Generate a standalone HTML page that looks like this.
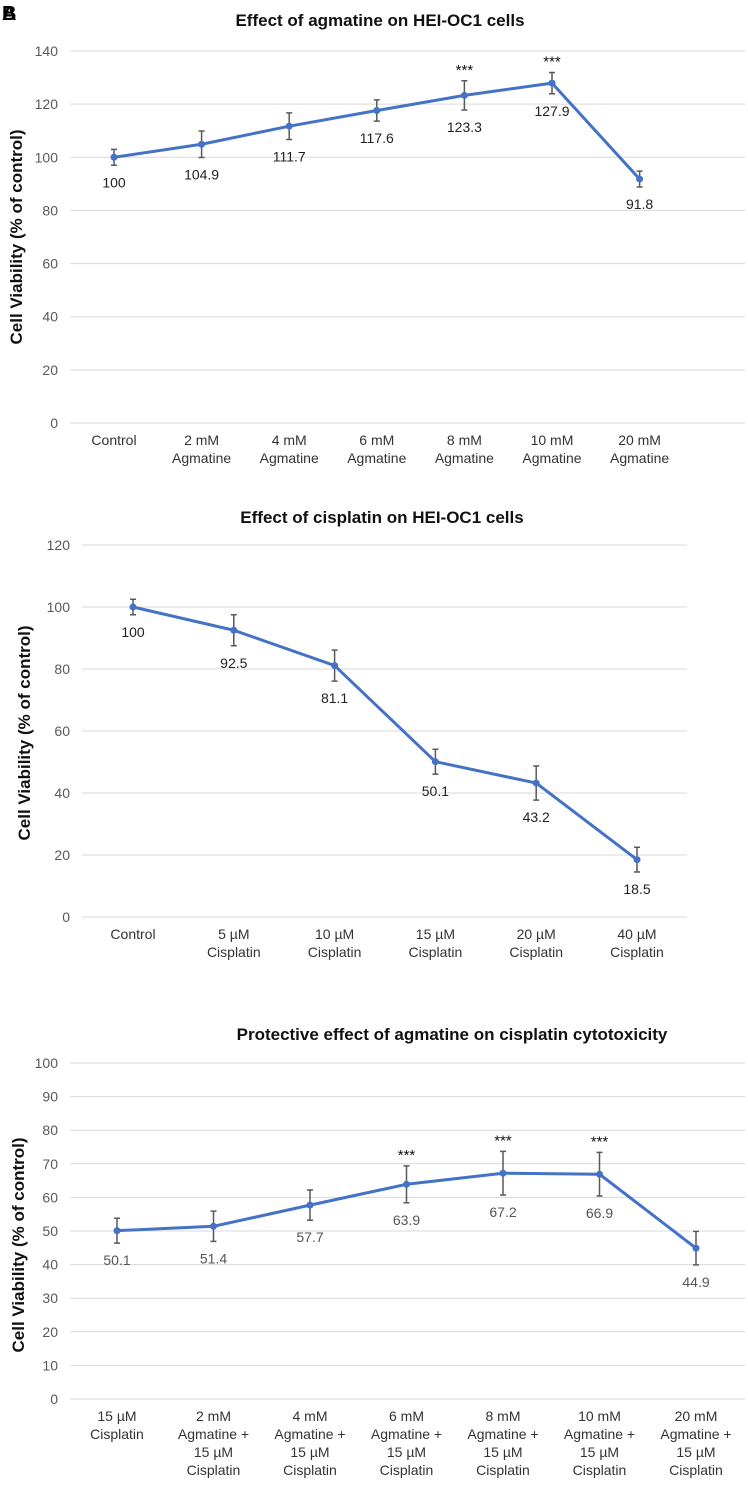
<!DOCTYPE html>
<html><head><meta charset="utf-8"><style>
body{margin:0;background:#fff;}
svg{display:block;font-family:"Liberation Sans",Arial,sans-serif;}
</style></head><body>
<svg id="s" width="748" height="1486">
<text x="2" y="20" font-size="20" font-weight="bold">A</text>
<text x="2" y="20" font-size="20" font-weight="bold">B</text>
</svg>
<script>
const c1Cats=[["Control"],["2 mM","Agmatine"],["4 mM","Agmatine"],["6 mM","Agmatine"],["8 mM","Agmatine"],["10 mM","Agmatine"],["20 mM","Agmatine"]];
const c1Vals=[100,104.9,111.7,117.6,123.3,127.9,91.8];
const c1Err=[3,5,5,4,5.5,4,3];
const c1Sig=["","","","","***","***",""];
const c1Ticks=[0,20,40,60,80,100,120,140];
const c2Cats=[["Control"],["5 µM","Cisplatin"],["10 µM","Cisplatin"],["15 µM","Cisplatin"],["20 µM","Cisplatin"],["40 µM","Cisplatin"]];
const c2Vals=[100,92.5,81.1,50.1,43.2,18.5];
const c2Err=[2.5,5,5,4,5.5,4];
const c2Sig=["","","","","",""];
const c2Ticks=[0,20,40,60,80,100,120];
const c3Cats=[["15 µM","Cisplatin"],["2 mM","Agmatine +","15 µM","Cisplatin"],["4 mM","Agmatine +","15 µM","Cisplatin"],["6 mM","Agmatine +","15 µM","Cisplatin"],["8 mM","Agmatine +","15 µM","Cisplatin"],["10 mM","Agmatine +","15 µM","Cisplatin"],["20 mM","Agmatine +","15 µM","Cisplatin"]];
const c3Vals=[50.1,51.4,57.7,63.9,67.2,66.9,44.9];
const c3Err=[3.7,4.5,4.5,5.5,6.5,6.5,5];
const c3Sig=["","","","***","***","***",""];
const c3Ticks=[0,10,20,30,40,50,60,70,80,90,100];

const svg=document.getElementById('s');
const NS='http://www.w3.org/2000/svg';
function mk(tag,at,txt){const e=document.createElementNS(NS,tag);for(const k in at)e.setAttribute(k,at[k]);if(txt!==undefined)e.textContent=txt;svg.appendChild(e);return e;}

function chart(o){
  const ymax=o.ticks[o.ticks.length-1];
  const Y=v=>o.y0-(o.y0-o.yTop)*v/ymax;
  const X=i=>o.x0+o.dx*i;
  let t=mk('text',{x:o.tx,y:o.ty,'font-size':17,'font-weight':'bold','text-anchor':'middle',fill:'#111'},o.title);
  
  
  o.ticks.forEach(v=>{
    let g=mk('line',{x1:o.gl,x2:o.gr,y1:Y(v),y2:Y(v),stroke:'#d9d9d9','stroke-width':1});
    
    
    let l=mk('text',{x:o.gl-12,y:Y(v)+5,'font-size':14,'text-anchor':'end',fill:'#595959'},v);
    
    
  });
  let at=mk('text',{transform:`translate(${o.ax},${o.ay}) rotate(-90)`,'font-size':17,'font-weight':'bold','text-anchor':'middle',fill:'#111'},'Cell Viability (% of control)');
  
  
  o.cats.forEach((c,i)=>{c.forEach((s,j)=>{
    let l=mk('text',{x:X(i),y:o.y0+22+j*18,'font-size':14,'text-anchor':'middle',fill:'#333'},s);
    
    
  });});
  let pts=o.vals.map((v,i)=>X(i)+','+Y(v)).join(' ');
  let pl=mk('polyline',{points:pts,fill:'none',stroke:'#4472c4','stroke-width':3,'stroke-linejoin':'round'});
  
  
  o.vals.forEach((v,i)=>{
    const hi=Y(v+o.err[i]),lo=Y(v-o.err[i]),x=X(i);
    let e=mk('path',{d:`M${x},${hi}V${lo}M${x-3},${hi}H${x+3}M${x-3},${lo}H${x+3}`,stroke:'#595959','stroke-width':1.5,fill:'none'});
    
    
    let p=mk('circle',{cx:x,cy:Y(v),r:3.5,fill:'#4472c4'});
    
    
    let l=mk('text',{x:x,y:lo+22,'font-size':14,'text-anchor':'middle',fill:o.lc},v);
    
    
    if(o.sig[i]){let s=mk('text',{x:x,y:hi-6,'font-size':15,'text-anchor':'middle',fill:'#111'},o.sig[i]);
      
      }
  });
}
chart({id:'chart1',title:'Effect of agmatine on HEI-OC1 cells',tx:380,ty:26,cats:c1Cats,vals:c1Vals,err:c1Err,sig:c1Sig,ticks:c1Ticks,y0:423,yTop:51,gl:70,gr:745,x0:114,dx:87.6,ax:22,ay:237,lc:'#222'});
chart({id:'chart2',title:'Effect of cisplatin on HEI-OC1 cells',tx:382,ty:523,cats:c2Cats,vals:c2Vals,err:c2Err,sig:c2Sig,ticks:c2Ticks,y0:917,yTop:545,gl:82,gr:687,x0:133,dx:100.8,ax:30,ay:733,lc:'#222'});
chart({id:'chart3',title:'Protective effect of agmatine on cisplatin cytotoxicity',tx:452,ty:1040,cats:c3Cats,vals:c3Vals,err:c3Err,sig:c3Sig,ticks:c3Ticks,y0:1399,yTop:1063,gl:70,gr:745,x0:117,dx:96.5,ax:24,ay:1245,lc:'#555'});
</script>
</body></html>
